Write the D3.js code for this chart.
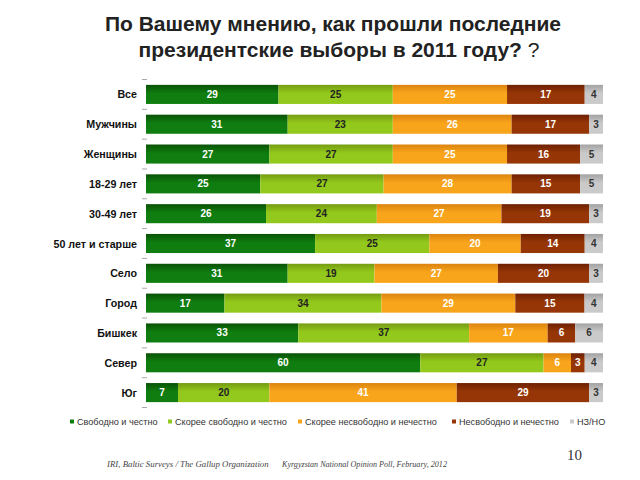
<!DOCTYPE html>
<html><head><meta charset="utf-8">
<script src="https://cdn.jsdelivr.net/npm/d3@7"></script>
<style>body{margin:0;background:#fff}svg{display:block}</style>
</head><body>
<svg id="c" width="640" height="480"></svg>
<script>
const categories = ["Все","Мужчины","Женщины","18-29 лет","30-49 лет","50 лет и старше","Село","Город","Бишкек","Север","Юг"];
const seriesNames = ["Свободно и честно","Скорее свободно и честно","Скорее несвободно и нечестно","Несвободно и нечестно","НЗ/НО"];
const free      = [29,31,27,25,26,37,31,17,33,60,7];
const ratherFree= [25,23,27,27,24,25,19,34,37,27,20];
const ratherNot = [25,26,25,28,27,20,27,29,17,6,41];
const notFree   = [17,17,16,15,19,14,20,15,6,3,29];
const dk        = [4,3,5,5,3,4,3,4,6,4,3];
const seriesValues = [free, ratherFree, ratherNot, notFree, dk];

const colors = [
  {top:"#0a5206", bot:"#0f7d0f", text:"#fff"},
  {top:"#759c12", bot:"#93c91c", text:"#222"},
  {top:"#dc8410", bot:"#f9a51c", text:"#fff"},
  {top:"#6e2003", bot:"#963606", text:"#fff"},
  {top:"#a2a2a2", bot:"#cacaca", text:"#333"}
];

const svg = d3.select("#c");
const defs = svg.append("defs");
colors.forEach((c,i)=>{
  const g = defs.append("linearGradient").attr("id","g"+i).attr("x1",0).attr("y1",0).attr("x2",0).attr("y2",1);
  g.append("stop").attr("offset","0%").attr("stop-color",c.top);
  g.append("stop").attr("offset","45%").attr("stop-color",c.bot);
  g.append("stop").attr("offset","100%").attr("stop-color",c.bot);
});

// title
const title = svg.append("text").attr("text-anchor","middle")
  .attr("font-family","Liberation Sans, Arial, sans-serif").attr("font-size",21).attr("font-weight","bold").attr("fill","#222");
title.append("tspan").attr("x",333).attr("y",31).text("По Вашему мнению, как прошли последние");
const t2 = title.append("tspan").attr("x",339).attr("y",57);
t2.append("tspan").text("президентские выборы в 2011 году?");
t2.append("tspan").attr("font-weight","normal").text(" ?");

const x = d3.scaleLinear().domain([0,100]).range([146,603]);
const y = d3.scaleBand().domain(categories).range([79.5,407.5]).paddingInner(0.36).paddingOuter(0.18);

// stacked, normalized per row
const rows = categories.map((c,i)=>{
  const vals = seriesValues.map(s=>s[i]);
  const total = d3.sum(vals);
  let acc = 0;
  return vals.map((v,k)=>{ const a=acc; acc+=v; return {cat:c,k,v,x0:a*100/total,x1:acc*100/total}; });
});

// axis ticks (small dashes)
const bounds = d3.range(categories.length+1).map(i=>y.range()[0]+i*y.step());
svg.append("g").selectAll("line").data(bounds).join("line")
  .attr("x1",142).attr("x2",147).attr("y1",d=>d).attr("y2",d=>d)
  .attr("stroke","#aaa").attr("stroke-width",1);

const g = svg.append("g");
rows.forEach(r=>{
  g.selectAll(null).data(r).join("rect")
    .attr("x",d=>x(d.x0)).attr("width",d=>x(d.x1)-x(d.x0))
    .attr("y",d=>y(d.cat)).attr("height",y.bandwidth())
    .attr("fill",d=>`url(#g${d.k})`);
  g.selectAll(null).data(r).join("text")
    .attr("x",d=>(x(d.x0)+x(d.x1))/2).attr("y",d=>y(d.cat)+y.bandwidth()/2+3.5)
    .attr("text-anchor","middle").attr("font-family","Liberation Sans, Arial, sans-serif")
    .attr("font-size",10).attr("font-weight","bold")
    .attr("fill",d=>colors[d.k].text).text(d=>d.v);
});

// category labels
svg.append("g").selectAll("text").data(categories).join("text")
  .attr("x",137).attr("y",d=>y(d)+y.bandwidth()/2+4)
  .attr("text-anchor","end").attr("font-family","Liberation Sans, Arial, sans-serif")
  .attr("font-size",10.7).attr("font-weight","bold").attr("fill","#111").text(d=>d);

// legend
const legX = [70,168,298,452,570];
const leg = svg.append("g");
seriesNames.forEach((n,i)=>{
  leg.append("rect").attr("x",legX[i]).attr("y",419.5).attr("width",4).attr("height",4).attr("fill",colors[i].bot);
  leg.append("text").attr("x",legX[i]+7).attr("y",425).attr("font-family","Liberation Sans, Arial, sans-serif")
    .attr("font-size",9.1).attr("fill","#333").text(n);
});

// footer
svg.append("text").attr("x",107).attr("y",467).attr("font-family","Liberation Serif, Times New Roman, serif")
  .attr("font-style","italic").attr("font-size",8.8).attr("fill","#444").text("IRI, Baltic Surveys / The Gallup Organization");
svg.append("text").attr("x",282).attr("y",467).attr("font-family","Liberation Serif, Times New Roman, serif")
  .attr("font-style","italic").attr("font-size",8.1).attr("fill","#444").text("Kyrgyzstan National Opinion Poll, February, 2012");
svg.append("text").attr("x",582).attr("y",460).attr("text-anchor","end").attr("font-family","Liberation Serif, Times New Roman, serif")
  .attr("font-size",15).attr("fill","#333").text("10");
</script>
</body></html>
